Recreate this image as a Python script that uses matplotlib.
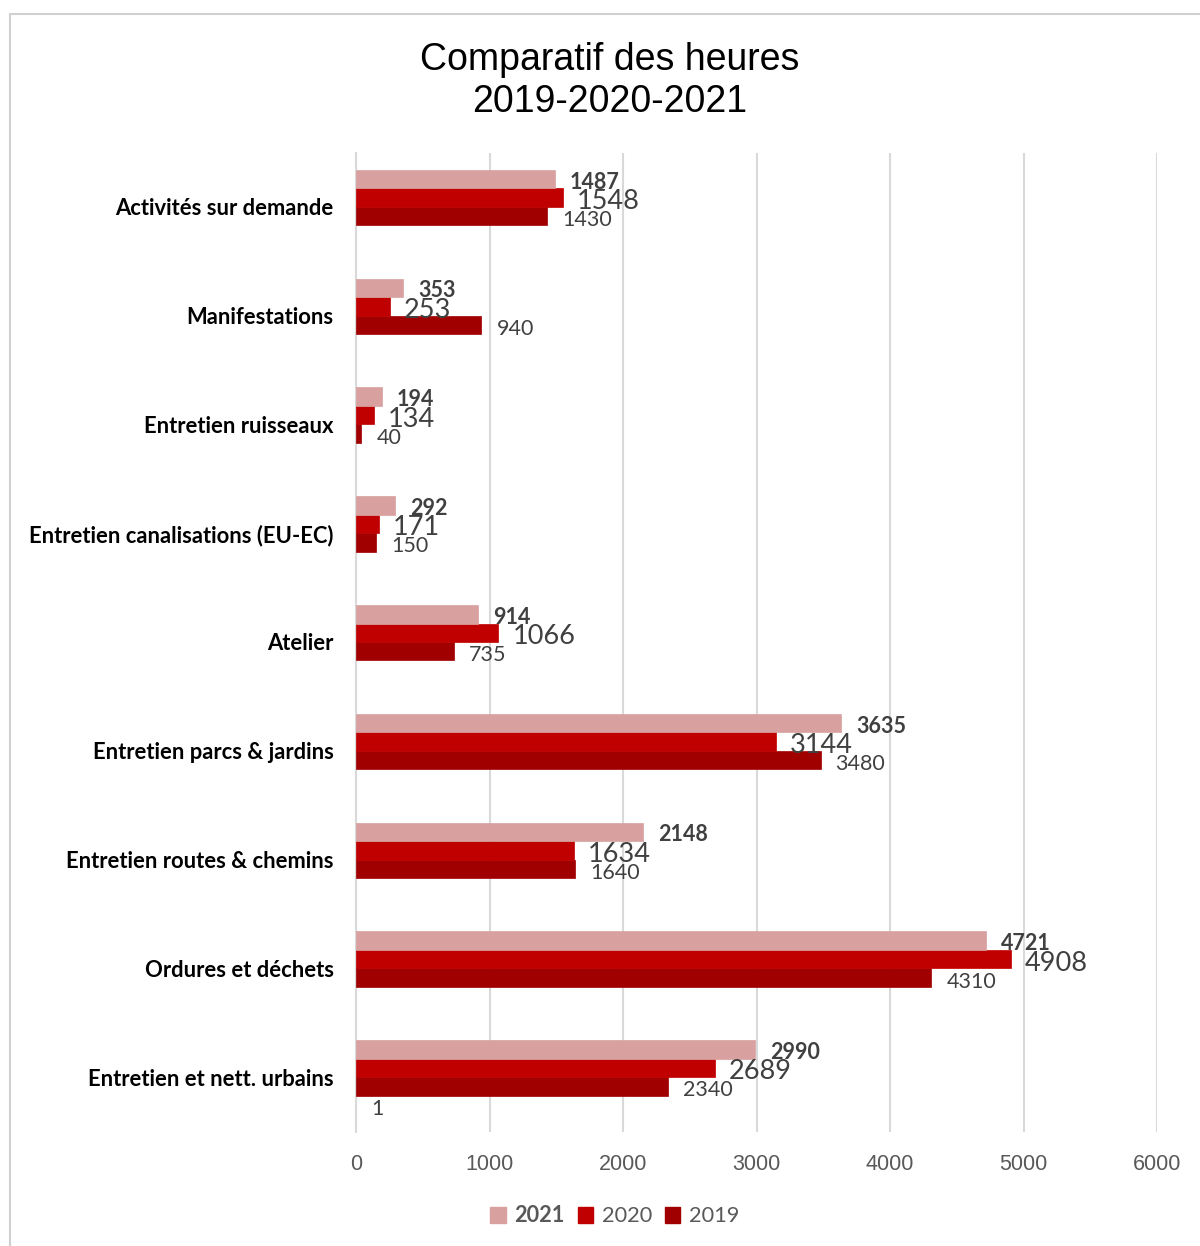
import matplotlib.pyplot as plt
import numpy as np
from matplotlib.patches import Rectangle, Patch

# categories from bottom to top (Excel order)
categories = ["Entretien et nett. urbains", "Ordures et déchets", "Entretien routes & chemins",
              "Entretien parcs & jardins", "Atelier", "Entretien canalisations (EU-EC)",
              "Entretien ruisseaux", "Manifestations", "Activités sur demande"]
h2021 = [2990, 4721, 2148, 3635, 914, 292, 194, 353, 1487]
h2020 = [2689, 4908, 1634, 3144, 1066, 171, 134, 253, 1548]
h2019 = [2340, 4310, 1640, 3480, 735, 150, 40, 940, 1430]
extra = [1, 0, 0, 0, 0, 0, 0, 0, 0]   # série cachée (valeur 1)

col2021 = "#D9A0A0"
col2020 = "#C00000"
col2019 = "#A00000"
txt = "#404040"

fig = plt.figure(figsize=(12, 12.46), dpi=100)
fig.patches.append(Rectangle((10 / 1200, -0.01), 1.0, 1 - 14 / 1246 + 0.01,
                             transform=fig.transFigure, fill=False,
                             edgecolor="#d0d0d0", linewidth=1.5))

ax = fig.add_axes([356 / 1200, 1 - 1131.5 / 1246, 801 / 1200, 979 / 1246])

y = np.arange(len(categories))
bh = 0.17
series = [(extra, "white", -1.5 * bh, None),
          (h2019, col2019, -0.5 * bh, "2019"),
          (h2020, col2020, 0.5 * bh, "2020"),
          (h2021, col2021, 1.5 * bh, "2021")]

for vals, c, off, lab in series:
    ax.barh(y + off, vals, height=bh, color=c, edgecolor=c if lab else "none",
            linewidth=0.5, label=lab, zorder=3)

small = 15.5
for i in range(len(categories)):
    ax.annotate(str(h2021[i]), (h2021[i], y[i] + 1.5 * bh), xytext=(15, -3),
                textcoords="offset pixels", va="center", ha="left",
                fontsize=small, fontweight="bold", color=txt, family="Lato")
    ax.annotate(str(h2020[i]), (h2020[i], y[i] + 0.5 * bh), xytext=(14, -4),
                textcoords="offset pixels", va="center", ha="left",
                fontsize=19.5, color=txt, family="Lato")
    ax.annotate(str(h2019[i]), (h2019[i], y[i] - 0.5 * bh), xytext=(15, -4),
                textcoords="offset pixels", va="center", ha="left",
                fontsize=small, color=txt, family="Lato")
    if extra[i]:
        ax.annotate(str(extra[i]), (extra[i], y[i] - 1.5 * bh), xytext=(15, -4),
                    textcoords="offset pixels", va="center", ha="left",
                    fontsize=small, color=txt, family="Lato")

ax.set_xlim(0, 6000)
ax.set_ylim(-0.5, len(categories) - 0.5)
ax.set_xticks(np.arange(0, 6001, 1000))
ax.set_yticks(y)
ax.set_yticklabels(categories, fontsize=15.8, fontweight="bold", family="Lato")
ax.tick_params(axis="y", length=0, pad=16, colors="black")
ax.tick_params(axis="x", length=0, pad=16, labelsize=15.5, labelcolor="#595959")
for lbl in ax.get_xticklabels():
    lbl.set_family("Liberation Sans")
ax.grid(axis="x", color="#d9d9d9", linewidth=1.5, zorder=0)
for s in ["top", "right", "bottom"]:
    ax.spines[s].set_visible(False)
ax.spines["left"].set_color("#d9d9d9")
ax.spines["left"].set_linewidth(1.5)

fig.text(610 / 1200, 1 - 81 / 1246, "Comparatif des heures\n2019-2020-2021",
         ha="center", va="center", fontsize=27, family="Liberation Sans",
         color="black", linespacing=1.2)

handles = [Patch(color=col2021), Patch(color=col2020), Patch(color=col2019)]
leg = fig.legend(handles, ["2021", "2020", "2019"], loc="center",
                 bbox_to_anchor=(615 / 1200, 1 - 1216 / 1246), ncol=3, frameon=False,
                 handlelength=0.7, handleheight=0.7, handletextpad=0.4,
                 columnspacing=0.6, prop={"family": "Lato", "size": 15.7})
for i, t in enumerate(leg.get_texts()):
    t.set_color("#595959")
    if i == 0:
        t.set_fontweight("bold")

fig.savefig("out.png", dpi=100)
